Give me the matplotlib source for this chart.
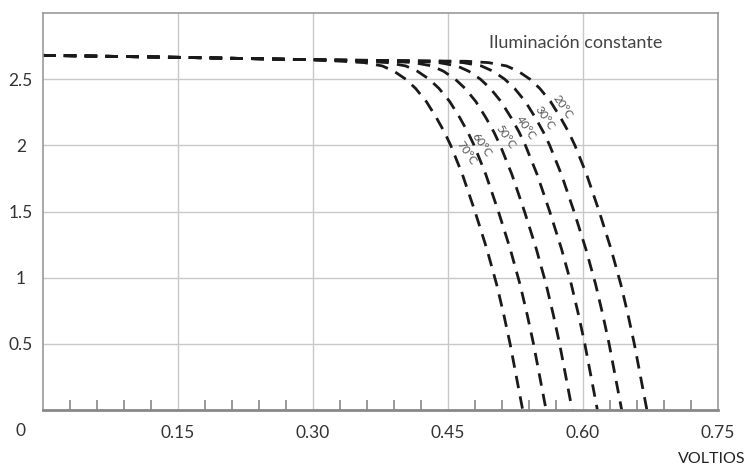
import numpy as np
import matplotlib
matplotlib.use("Agg")
import matplotlib.pyplot as plt

plt.rcParams['font.family'] = ['Lato', 'DejaVu Sans']

# curvas I-V (voltios, amperios)
temps = ["70°C", "60°C", "50°C", "40°C", "30°C", "20°C"]
I_pts = [2.68, 2.665, 2.647, 2.635, 2.625, 2.615, 2.60, 2.56, 2.50, 2.43,
         2.33, 2.21, 2.10, 2.00, 1.78, 1.50, 1.22, 0.95, 0.72, 0.50, 0.25, 0.0]
V_70 = [0, 0.15, 0.30, 0.333, 0.357, 0.365, 0.377, 0.390, 0.403, 0.414, 0.426,
        0.437, 0.446, 0.453, 0.466, 0.480, 0.493, 0.504, 0.512, 0.519, 0.526, 0.533]
V_60 = [0, 0.15, 0.30, 0.359, 0.383, 0.391, 0.403, 0.416, 0.429, 0.440, 0.452,
        0.463, 0.472, 0.479, 0.492, 0.506, 0.519, 0.530, 0.538, 0.545, 0.552, 0.559]
V_50 = [0, 0.15, 0.30, 0.388, 0.412, 0.420, 0.432, 0.445, 0.458, 0.469, 0.481,
        0.492, 0.501, 0.508, 0.521, 0.535, 0.548, 0.559, 0.567, 0.574, 0.581, 0.588]
V_40 = [0, 0.15, 0.30, 0.416, 0.440, 0.448, 0.460, 0.473, 0.486, 0.497, 0.509,
        0.520, 0.529, 0.536, 0.549, 0.563, 0.576, 0.587, 0.595, 0.602, 0.609, 0.616]
V_30 = [0, 0.15, 0.30, 0.443, 0.467, 0.475, 0.487, 0.500, 0.513, 0.524, 0.536,
        0.547, 0.556, 0.563, 0.576, 0.590, 0.603, 0.614, 0.622, 0.629, 0.636, 0.643]
V_20 = [0, 0.15, 0.30, 0.471, 0.495, 0.503, 0.515, 0.528, 0.541, 0.552, 0.564,
        0.575, 0.584, 0.591, 0.604, 0.618, 0.631, 0.642, 0.650, 0.657, 0.664, 0.671]
curves = [V_70, V_60, V_50, V_40, V_30, V_20]

# posiciones de las etiquetas
lab_V = [0.471, 0.487, 0.514, 0.537, 0.557, 0.577]
lab_I = [1.94, 2.00, 2.06, 2.13, 2.21, 2.29]

xticks = [0.15, 0.30, 0.45, 0.60, 0.75]
xlabels = ["0.15", "0.30", "0.45", "0.60", "0.75"]
yticks = [0.5, 1, 1.5, 2, 2.5]
ylabels = ["0.5", "1", "1.5", "2", "2.5"]

fig = plt.figure(figsize=(7.49, 4.68), dpi=100)
ax = fig.add_axes([43/749, 1-410/468, 675/749, 397/468])

for V in curves:
    ax.plot(V, I_pts, color='#1a1a1a', lw=2, ls=(0, (4.5, 3)),
            dash_capstyle='butt', solid_joinstyle='round')

for t, x, y in zip(temps, lab_V, lab_I):
    ax.text(x, y, t, rotation=-56, fontsize=8.5, color='#555555',
            ha='center', va='center', rotation_mode='anchor')

ax.text(0.592, 2.77, "Iluminación constante", fontsize=13, color='#444444',
        ha='center', va='center')

ax.set_xlim(0, 0.75)
ax.set_ylim(0, 3.0)
ax.set_xticks(xticks)
ax.set_xticklabels(xlabels)
ax.set_yticks(yticks)
ax.set_yticklabels(ylabels)
minor = [m for m in np.round(np.arange(0.03, 0.75, 0.03), 2)
         if not any(abs(m - t) < 1e-6 for t in xticks)]
ax.set_xticks(minor, minor=True)
ax.tick_params(axis='x', which='minor', direction='in', length=7, width=1.2,
               color='#888888')
ax.tick_params(axis='x', which='major', length=0, pad=11, labelsize=12.5,
               labelcolor='#333333')
ax.tick_params(axis='y', length=0, pad=16, labelsize=12.5, labelcolor='#333333')
for lab in ax.get_yticklabels():
    lab.set_ha('center')

ax.grid(True, which='major', color='#c8c8c8', lw=1)
ax.set_axisbelow(True)
for s in ax.spines.values():
    s.set_color('#999999')
    s.set_linewidth(1.2)
ax.spines['bottom'].set_linewidth(2)
ax.spines['bottom'].set_color('#888888')

fig.text(21/749, 1-431/468, "0", fontsize=12.5, color='#333333',
         ha='center', va='center')
fig.text(745/749, 1-459/468, "VOLTIOS", fontsize=11.5, color='#222222',
         ha='right', va='center')

fig.savefig("out.png", dpi=100)
